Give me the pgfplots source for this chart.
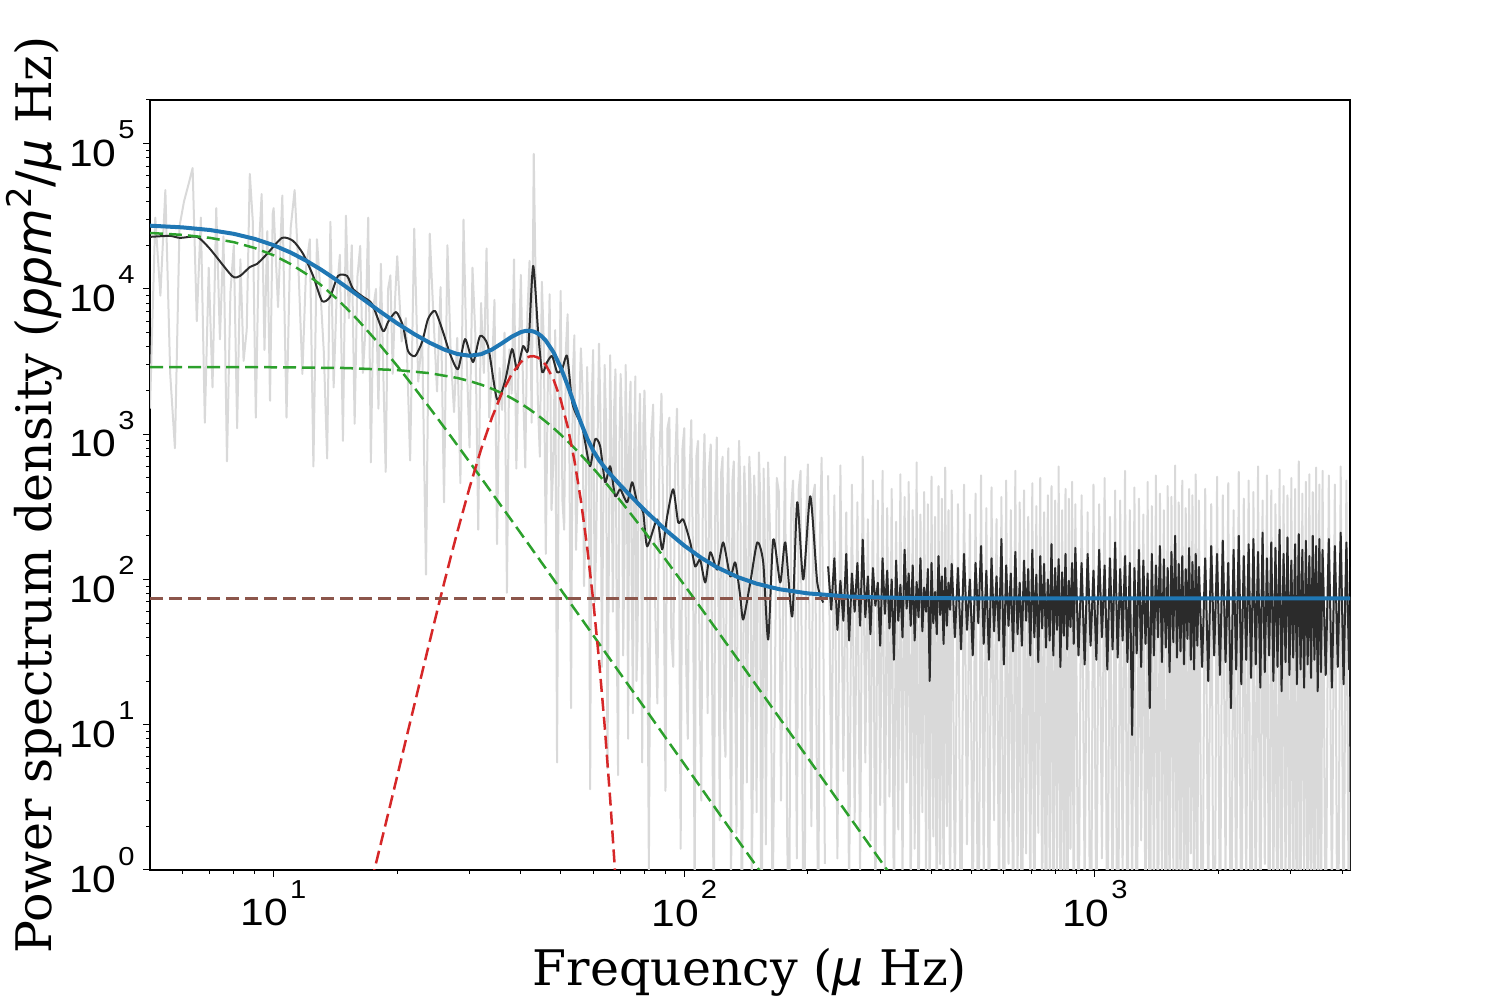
\documentclass[border=0pt]{standalone}
\usepackage{fontspec}
\setmainfont{DejaVu Serif}
\newfontfamily\tickfont{Liberation Sans}
\newfontfamily\dvsans{DejaVu Sans}
\usepackage{graphicx}
\usepackage{pgfplots}
\usepackage{pgfplotstable}
\pgfplotsset{compat=1.18}

\definecolor{cgrey}{HTML}{D9D9D9}
\definecolor{cblack}{HTML}{2B2B2B}
\definecolor{cblue}{HTML}{1F77B4}
\definecolor{cgreen}{HTML}{2CA02C}
\definecolor{cred}{HTML}{D62728}
\definecolor{cbrown}{HTML}{8C564B}

\newcommand{\tl}[1]{\scalebox{1.12}[1]{10}\hspace{1pt}\raisebox{13.8pt}{\fontsize{13}{13}\selectfont\scalebox{1.12}[1]{#1}}}

% raw spectrum, low frequencies
\pgfplotstableread{
f g
5.00 1500
5.15 31000
5.30 9000
5.45 48000
5.60 2600
5.75 800
5.90 27000
6.05 40000
6.20 52000
6.35 68000
6.50 6000
6.65 31000
6.80 1200
6.95 14000
7.10 2100
7.25 36000
7.40 4500
7.55 23000
7.70 650
7.85 9500
8.00 20000
8.15 1100
8.30 16000
8.45 3200
8.60 5200
8.75 62000
8.90 29000
9.05 1300
9.20 18000
9.35 45000
9.50 3800
9.65 25000
9.80 1700
9.95 33000
10.00 36000
10.25 7500
10.50 44000
10.75 1300
11.00 26000
11.25 48000
11.50 13400
11.75 2600
12.00 14200
12.25 22000
12.50 600
12.75 22000
13.00 9700
13.25 3700
13.50 680
13.75 29000
14.00 2100
14.25 9400
14.50 17200
14.75 900
15.00 32000
15.25 6300
15.50 20000
15.75 1180
16.00 12200
16.25 19800
16.50 2640
16.75 5500
17.00 31000
17.25 640
17.50 7500
17.75 10000
18.00 1500
18.25 14900
18.50 2600
18.75 550
19.00 10000
19.25 12400
19.50 2600
19.75 8200
20.0 16800
20.5 4350
21.0 6300
21.5 660
22.0 26000
22.5 2300
23.0 4750
23.5 108
24.0 24000
24.5 6500
25.0 1970
25.5 10300
26.0 340
26.5 20000
27.0 3500
27.5 1420
28.0 4600
28.5 460
29.0 30000
29.5 3500
30.0 810
30.5 14000
31.0 4800
31.5 220
32.0 8000
32.5 2640
33.0 19000
33.5 1300
34.0 2500
34.5 8400
35.0 175
35.5 2850
36.0 1470
36.5 5000
37.0 81
37.5 3840
38.0 1900
38.5 16000
39.0 580
39.5 3100
40 12500
40.5 2100
41 590
41.5 6800
42 15600
42.5 1200
43 85000
43.5 9000
44 1700
44.5 700
45 11200
45.5 4200
46 150
46.5 1900
47 9200
47.5 300
48 650
48.5 5200
49 5.5
49.5 1300
50 9700
50.5 350
51 220
51.5 3900
52 6700
52.5 900
53 13
53.5 2400
54 4800
54.5 160
55 400
55.5 1500
56 3900
56.5 2100
57 90
57.5 220
58 2900
58.5 1100
59 3.6
59.5 1700
60 3800
60.5 70
61 160
61.5 900
62 4200
62.5 1400
63 25
63.5 300
64 3000
64.5 1250
65 5
65.5 120
66 3500
66.5 700
67 60
67.5 1500
68 2800
68.5 40
69 4.5
69.5 800
70 2600
70.5 1200
71 30
71.5 150
72 3000
72.5 600
73 8
73.5 1300
74 2300
74.5 90
75 12
75.5 700
76 2500
76.5 20
77 40
77.5 900
78 1900
78.5 350
79 5.5
79.5 1100
80 2000
81 300
82 1.0
83 900
84 1600
85 60
86 14
87 700
88 1900
89 200
90 3.5
91 1100
92 1300
93 40
94 25
95 600
96 1500
97 250
98 1.4
99 800
100 1100
101 30
102 8
103 500
104 1250
105 150
106 0.6
107 700
108 900
109 20
110 3
111 400
112 1000
113 180
114 12
115 600
116 850
117 15
118 0.3
119 350
120 950
121 120
122 2.2
123 550
124 700
125 10
126 6
127 300
128 800
129 90
130 0.5
131 480
132 650
133 25
134 1.8
135 260
136 900
137 400
138 0.2
139 8
140 600
141 330
142 4
143 60
144 700
145 450
146 0.8
147 5
148 520
149 280
150 2.5
151 120
152 750
153 380
154 0.1
155 3
156 580
157 220
158 1.5
160 640
162 180
164 0.4
166 12
168 500
170 400
172 3
174 60
176 700
178 2
180 0.2
182 300
184 480
186 90
188 1.2
190 420
192 560
194 4
196 0.05
198 250
200 620
202 35
204 2
206 380
208 450
210 8
212 0.3
214 200
216 690
218 50
220 1.1
}\greylf

% smoothed spectrum, low frequencies
\pgfplotstableread{
f b
5.00 22840
5.59 23200
5.92 22470
6.51 22840
7.00 18870
7.92 12290
8.28 12290
8.76 14180
9.11 14870
9.64 17430
10.48 22470
11.15 21430
11.80 17430
12.48 12290
13.12 8265
13.72 8808
14.35 12290
15.10 12290
15.61 10000
16.52 8808
17.37 7881
18.47 5132
19.00 5921
19.87 6940
20.66 5556
21.25 3736
22.10 3451
22.99 4310
23.77 6210
24.73 7053
25.86 5051
26.90 3562
28.13 2808
29.26 4520
30.60 3138
31.82 4742
33.28 4045
35.00 1744
36.61 2320
38.08 3857
39.17 2808
40.51 4045
41.67 3857
42.85 14410
44.07 5051
45.07 2677
46.35 3138
47.67 3451
49.02 2677
50.43 2808
51.85 3451
53.33 1662
54.85 1331
56.41 1136
57.36 881
59.00 602
60.68 924
62.40 826
64.18 467
66.01 602
67.88 374
69.81 418
72.61 340
74.67 467
76.80 340
79.43 290
81.22 169
85.91 259
88.35 161
90.86 272
93.98 418
96.66 247
99.41 259
103.4 180
106.3 123
109.3 137
112.5 95.4
115.7 154
120.3 117
124.4 180
129.4 105
133.1 131
136.9 76.4
139.2 53
144.8 95.4
150.6 180
155.7 131
160.1 38.6
164.7 189
171.3 95.4
176.2 180
183.2 55.6
188.4 340
194.9 100
202.7 374
210.8 95.4
218.0 69.4
}\blacklf

% raw (g) and smoothed (b) spectrum, high frequencies
\pgfplotstableread{
f g b
224 520 123
228 3.5 62
232 380 140
236 1.2 45
240 610 98
244 4.8 52
248 290 150
252 0.6 38
256 450 110
260 2.2 60
264 340 130
268 0.9 48
272 700 188
276 5.5 55
280 260 105
284 1.6 42
288 480 120
292 0.4 66
296 350 95
300 2.8 35
304 560 140
308 1.0 58
312 310 115
316 3.2 46
320 420 100
324 0.3 28
328 250 135
332 1.9 52
336 530 92
340 0.7 40
344 370 160
348 4.0 63
352 470 110
356 0.5 48
360 300 125
364 1.4 38
368 640 96
372 0.2 55
376 280 140
380 2.5 44
384 400 88
388 0.8 60
392 330 118
396 0.35 20
400 510 130
404 1.7 50
408 270 82
412 0.15 42
416 440 145
420 1.1 57
424 360 105
428 0.45 36
432 590 120
436 2.0 48
440 300 95
444 0.25 62
448 410 128
456 0.6 40
464 330 120
472 0.1 33
480 450 150
488 1.5 45
496 280 100
504 0.3 30
512 390 130
520 0.05 50
528 520 170
536 0.9 36
544 310 115
552 0.2 28
560 430 140
568 2.2 44
576 260 105
584 0.4 38
592 370 190
600 0.08 26
608 480 125
616 1.1 48
624 300 110
632 0.25 32
640 560 155
648 0.7 42
656 340 95
664 0.03 35
672 410 135
680 1.3 52
688 270 118
696 0.5 30
704 460 160
712 0.12 40
720 320 108
728 1.8 27
736 500 145
744 0.35 46
752 290 128
760 0.06 34
768 380 100
776 0.8 38
784 440 175
792 0.15 30
800 350 120
808 1.0 45
816 600 138
824 0.2 25
832 300 112
840 0.45 41
848 420 150
856 0.04 33
864 360 98
872 1.4 47
880 470 130
888 0.3 36
896 330 165
912 0.2 30
928 380 130
944 0.7 26
960 290 150
976 0.05 35
992 450 115
1008 0.3 28
1024 330 160
1040 1.2 40
1056 500 125
1072 0.1 24
1088 270 140
1104 0.4 33
1120 410 180
1136 0.02 29
1152 350 118
1168 0.9 38
1184 560 145
1200 0.15 27
1216 300 130
1232 0.5 8.5
1248 430 120
1264 0.07 31
1280 360 160
1296 1.6 25
1312 280 135
1328 0.25 36
1344 470 110
1360 0.04 13
1376 320 150
1392 0.6 30
1408 520 125
1424 0.12 40
1440 390 170
1456 0.8 27
1472 300 138
1488 0.03 34
1504 440 120
1520 0.35 23
1536 370 155
1552 1.0 37
1568 610 200
1584 0.08 29
1600 340 128
1616 0.45 32
1632 480 145
1648 0.18 26
1664 310 118
1680 0.06 39
1696 420 165
1712 1.3 28
1728 380 132
1744 0.2 24
1760 530 150
1776 0.5 35
1792 350 122
1824 0.1 25
1856 420 140
1888 0.5 20
1920 330 170
1952 0.03 30
1984 510 150
2016 0.25 22
2048 380 185
2080 0.9 27
2112 460 130
2144 0.06 13
2176 300 160
2208 0.4 24
2240 550 200
2272 0.12 19
2304 360 145
2336 0.7 28
2368 480 175
2400 0.02 21
2432 400 190
2464 0.3 26
2496 600 155
2528 0.15 18
2560 350 210
2592 1.1 23
2624 520 140
2656 0.08 30
2688 410 180
2720 0.45 20
2752 330 165
2784 0.05 25
2816 570 220
2848 0.2 17
2880 440 150
2912 0.6 27
2944 380 195
2976 0.1 22
3008 500 135
3040 0.35 29
3072 420 175
3104 0.04 19
3136 650 205
3168 0.25 24
3200 390 160
3232 0.8 18
3264 470 185
3296 0.07 26
3328 530 145
3360 0.3 21
3392 400 200
3424 0.15 28
3456 590 170
3488 0.5 17
3520 450 190
3552 0.09 23
3584 560 160
3648 0.2 22
3712 520 190
3776 0.6 18
3840 450 170
3904 0.05 25
3968 600 210
4032 0.3 19
4096 480 180
4160 0.1 24
4224 550 200
}\hf

% model components
\pgfplotstableread{
f p
5 24292
6 23574
7 22482
8 20989
9 19141
10 17047
11 14854
12 12708
13 10719
14 8954
15 7437
16 6162
18 4239
20 2954
22 2096
24 1517
26 1120
28 842
30 644
32 501
34 395
36 315
38 254.5
40 207.6
44 142.2
48 100.5
52 73.1
58 47.3
65 30.0
70 22.3
80 13.1
90 8.16
100 5.36
110 3.66
120 2.58
135 1.61
150 1.06
160 0.82
}\harveyone

\pgfplotstableread{
f p
5 2899
10 2891
15 2856
20 2764
24 2632
28 2440
30 2323
32 2195
34 2057
36 1914
38 1769
40 1625
42 1484
44 1350
46 1222
48 1104
50 994.5
52 894.8
55 762.2
58 649.0
61 553.0
65 448.1
70 346.9
75 271.1
80 213.9
90 137.4
100 91.6
110 63.2
120 44.9
135 28.2
150 18.57
170 11.28
200 5.90
250 2.42
300 1.168
350 0.630
}\harveytwo

\pgfplotstableread{
f p
16 0.345
17 0.678
18 1.302
19 2.433
20 4.43
21 7.9
22 13.6
23 22.9
24 37.6
25 60.2
26 94.0
27 142.8
28 211.5
30 429.2
32 785.9
34 1297.5
36 1931.6
38 2593
40 3140
41 3324
42 3428
43 3446
44 3375
45 3222
46 2997
48 2400
50 1733
52 1128.5
54 662.7
56 350.9
58 167.6
60 72.2
62 28.0
64 9.82
66 3.10
68 0.884
70 0.227
}\gauss

\pgfplotstableread{
f p
5 74
4180 74
}\white

\pgfplotstableread{
f p
5 27265
6 26547
7 25454
8 23959
9 22109
10 20012
11 17815
12 15664
13 13668
14 11894
15 10367
16 9079
18 7124
20 5796
22 4890
24 4261
26 3832
28 3568
30 3470
32 3556
34 3824
36 4235
38 4691
40 5047
41 5140
42 5157
43 5092
44 4941
45 4711
46 4412
48 3679
50 2887
52 2170
54 1604
56 1202
58 938
60 771
62 663
65 558
70 443
75 362
80 301
90 219.6
100 171
110 140.9
120 121.5
135 103.8
150 93.6
170 85.8
200 80.2
250 76.4
300 75.2
350 74.6
400 74.4
500 74.15
700 74.03
1000 74.0
4180 74.0
}\total

\begin{document}
\begin{tikzpicture}
\path[use as bounding box] (0,0) rectangle (750pt,500pt);
\begin{axis}[
  at={(75pt,65pt)}, anchor=south west,
  width=600pt, height=385pt, scale only axis,
  xmode=log, ymode=log,
  xmin=5, xmax=4180, ymin=1, ymax=2e5,
  axis line style={line width=0.55pt},
  tick pos=left, tick align=outside,
  major tick length=3.5pt, minor tick length=2pt,
  tick style={black, line width=0.5pt},
  xtick={10,100,1000},
  xticklabels={\tl{1},\tl{2},\tl{3}},
  minor xtick={6,7,8,9,20,30,40,50,60,70,80,90,200,300,400,500,600,700,800,900,2000,3000,4000},
  ytick={1,10,100,1000,10000,100000},
  yticklabels={\tl{0},\tl{1},\tl{2},\tl{3},\tl{4},\tl{5}},
  minor ytick={2,3,4,5,6,7,8,9,20,30,40,50,60,70,80,90,200,300,400,500,600,700,800,900,2000,3000,4000,5000,6000,7000,8000,9000,20000,30000,40000,50000,60000,70000,80000,90000,200000},
  tick label style={font=\fontsize{19}{23}\selectfont\tickfont},
  xticklabel style={anchor=north, inner sep=0pt, yshift=-1.5pt},
  yticklabel style={anchor=east, inner sep=0pt, xshift=-4pt},
  xlabel={Frequency ({\dvsans\itshape μ} Hz)},
  ylabel={Power spectrum density ({\dvsans\itshape ppm}\raisebox{0.42em}{\fontsize{17}{17}\selectfont\dvsans 2}{\dvsans /\itshape μ} Hz)},
  label style={font=\fontsize{24.5}{28}\selectfont},
  xlabel style={at={(axis description cs:0.5,-0.1494)}, anchor=base},
  ylabel style={at={(axis description cs:-0.0817,0.487)}, anchor=base},
  no markers,
]
\addplot[cgrey, line width=1pt, line join=round] table[x=f,y=g]{\greylf};
\addplot[cgrey, line width=1pt, line join=round] table[x=f,y=g]{\hf};
\addplot[cblack, line width=1pt, line join=round, smooth, tension=0.4] table[x=f,y=b]{\blacklf};
\addplot[cblack, line width=1pt, line join=round] table[x=f,y=b]{\hf};
\addplot[cgreen, line width=1.25pt, dash pattern=on 6.5pt off 3pt] table[x=f,y=p]{\harveyone};
\addplot[cgreen, line width=1.25pt, dash pattern=on 6.5pt off 3pt] table[x=f,y=p]{\harveytwo};
\addplot[cred, line width=1.25pt, dash pattern=on 6.5pt off 3pt] table[x=f,y=p]{\gauss};
\addplot[cbrown, line width=1.25pt, dash pattern=on 6.5pt off 3pt] table[x=f,y=p]{\white};
\addplot[cblue, line width=2pt] table[x=f,y=p]{\total};
\end{axis}
\end{tikzpicture}
\end{document}
